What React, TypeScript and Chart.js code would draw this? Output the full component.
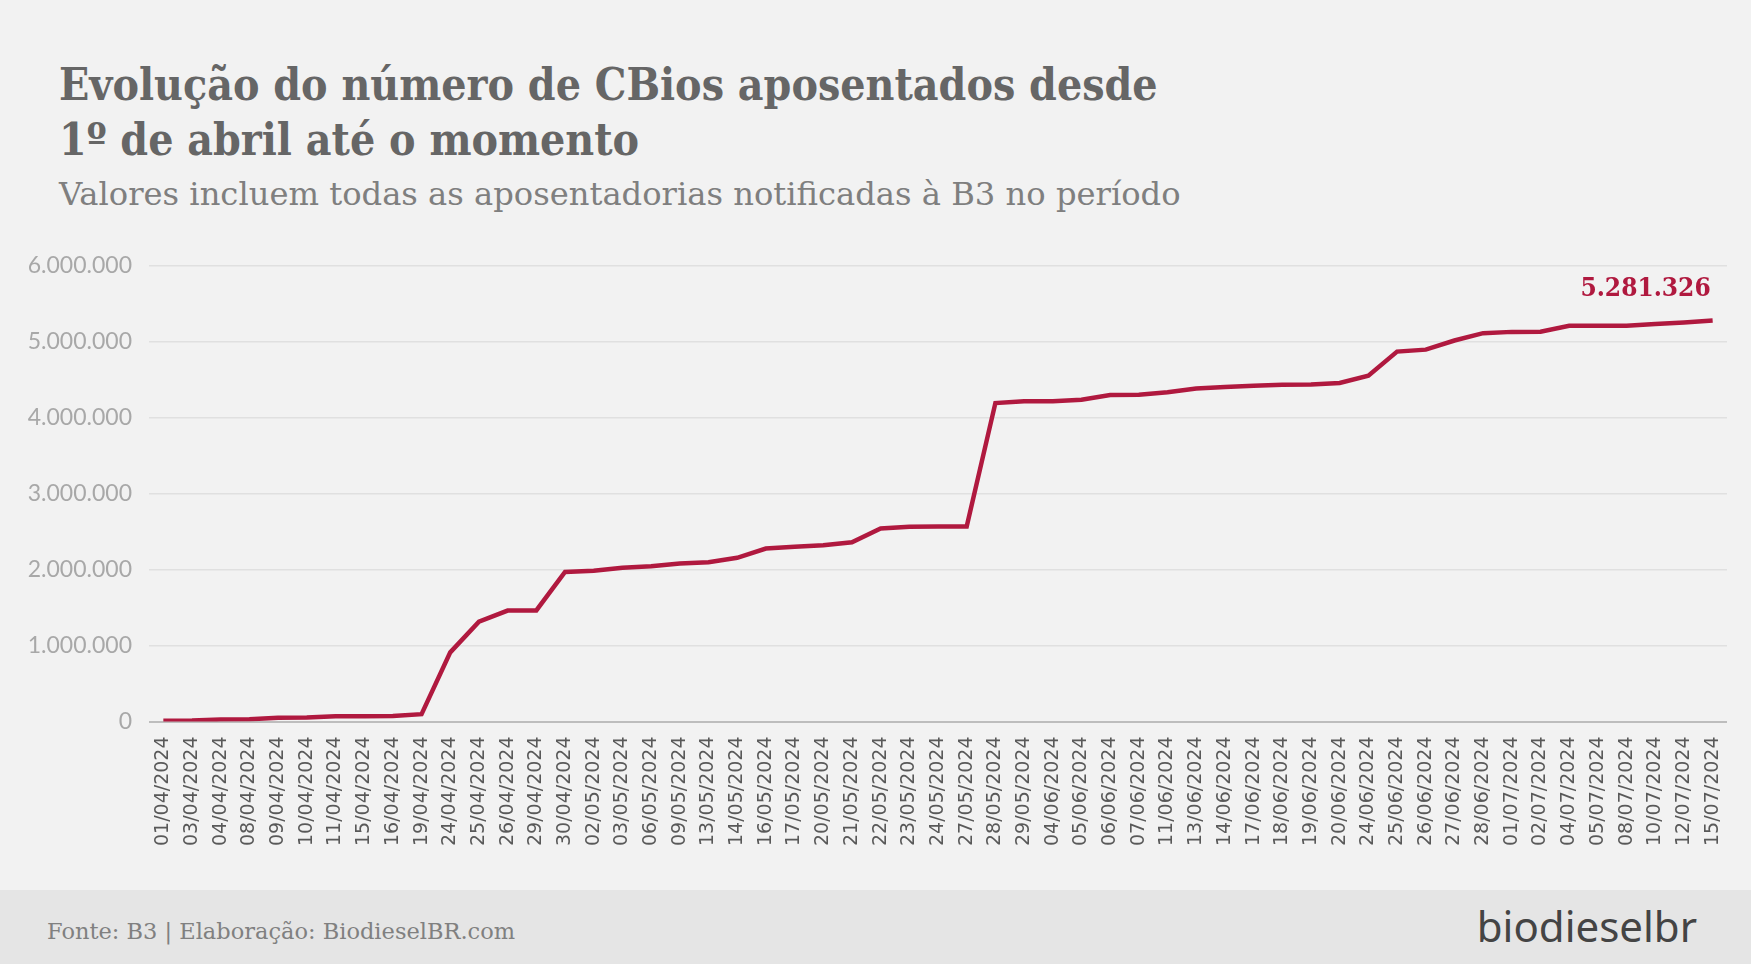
import React, { useEffect, useRef } from "react";
import { Chart, registerables } from "chart.js";

Chart.register(...registerables);

const dates = [
  "01/04/2024", "03/04/2024", "04/04/2024", "08/04/2024", "09/04/2024", "10/04/2024", "11/04/2024",
  "15/04/2024", "16/04/2024", "19/04/2024", "24/04/2024", "25/04/2024", "26/04/2024", "29/04/2024",
  "30/04/2024", "02/05/2024", "03/05/2024", "06/05/2024", "09/05/2024", "13/05/2024", "14/05/2024",
  "16/05/2024", "17/05/2024", "20/05/2024", "21/05/2024", "22/05/2024", "23/05/2024", "24/05/2024",
  "27/05/2024", "28/05/2024", "29/05/2024", "04/06/2024", "05/06/2024", "06/06/2024", "07/06/2024",
  "11/06/2024", "13/06/2024", "14/06/2024", "17/06/2024", "18/06/2024", "19/06/2024", "20/06/2024",
  "24/06/2024", "25/06/2024", "26/06/2024", "27/06/2024", "28/06/2024", "01/07/2024", "02/07/2024",
  "04/07/2024", "05/07/2024", "08/07/2024", "10/07/2024", "12/07/2024", "15/07/2024",
];

const retiredCBios = [
  10000, 12000, 25000, 30000, 50000, 52000, 68000,
  70000, 72000, 97000, 910000, 1315000, 1460000, 1462000,
  1970000, 1985000, 2025000, 2045000, 2080000, 2097000, 2155000,
  2277000, 2300000, 2320000, 2360000, 2540000, 2565000, 2566000,
  2567000, 4193000, 4215000, 4216000, 4237000, 4300000, 4302000,
  4334000, 4385000, 4405000, 4420000, 4435000, 4437000, 4457000,
  4554000, 4870000, 4896000, 5016000, 5113000, 5130000, 5131000,
  5210000, 5211000, 5212000, 5233000, 5255000, 5281326,
];

const yTicks = [0, 1000000, 2000000, 3000000, 4000000, 5000000, 6000000];

const titleLines = ["Evolução do número de CBios aposentados desde", "1º de abril até o momento"];
const subtitle = "Valores incluem todas as aposentadorias notificadas à B3 no período";
const footerText = "Fonte: B3 | Elaboração: BiodieselBR.com";
const logoText = "biodieselbr";

const fmt = (v: number) => String(Math.round(v)).replace(/\B(?=(\d{3})+(?!\d))/g, ".");

const SLAB_COND = "'DejaVu Serif Condensed', 'DejaVu Serif', serif";
const SLAB = "'DejaVu Serif', serif";
const LINE_COLOR = "#b0193f";

export default function App() {
  const canvasRef = useRef<HTMLCanvasElement | null>(null);

  useEffect(() => {
    document.body.style.margin = "0";
    const canvas = canvasRef.current;
    if (!canvas) return;

    const lastLabel = {
      id: "lastLabel",
      afterDatasetsDraw(chart: any) {
        const meta = chart.getDatasetMeta(0);
        const pt = meta.data[meta.data.length - 1];
        if (!pt) return;
        const ctx = chart.ctx;
        ctx.save();
        ctx.font = `bold 26px ${SLAB_COND}`;
        ctx.fillStyle = LINE_COLOR;
        ctx.textAlign = "right";
        ctx.textBaseline = "alphabetic";
        ctx.fillText(fmt(retiredCBios[retiredCBios.length - 1]), pt.x - 2, pt.y - 24);
        ctx.restore();
      },
    };

    const chart = new Chart(canvas, {
      type: "line",
      data: {
        labels: dates,
        datasets: [
          {
            data: retiredCBios,
            borderColor: LINE_COLOR,
            borderWidth: 4.5,
            pointRadius: 0,
            pointHoverRadius: 0,
            tension: 0,
            fill: false,
          },
        ],
      },
      options: {
        responsive: false,
        animation: false,
        devicePixelRatio: 1,
        layout: { padding: { top: 0, right: 24, left: 0, bottom: 0 } },
        plugins: {
          legend: { display: false },
          tooltip: { enabled: false },
          title: { display: false },
        },
        scales: {
          x: {
            type: "category",
            offset: true,
            grid: { display: false, drawTicks: false },
            border: { display: false },
            ticks: {
              autoSkip: false,
              minRotation: 90,
              maxRotation: 90,
              padding: 15,
              color: "#595959",
              font: { family: "'DejaVu Sans', sans-serif", size: 19 },
            },
            afterFit: (s: any) => {
              s.height = 168.5;
            },
          },
          y: {
            min: 0,
            max: 6000000,
            afterBuildTicks: (s: any) => {
              s.ticks = yTicks.map((v) => ({ value: v }));
            },
            grid: {
              drawTicks: false,
              color: (c: any) => (c.tick && c.tick.value === 0 ? "#bdbdbd" : "#e0e0e0"),
              lineWidth: (c: any) => (c.tick && c.tick.value === 0 ? 2 : 1.5),
            },
            border: { display: false },
            ticks: {
              padding: 17,
              color: "#a8a8a8",
              font: { family: "Lato, sans-serif", size: 23 },
              callback: (v: any) => fmt(Number(v)),
            },
            afterFit: (s: any) => {
              s.width = 149;
            },
          },
        },
      },
      plugins: [lastLabel],
    });

    return () => chart.destroy();
  }, []);

  return (
    <div
      style={{
        position: "fixed",
        left: 0,
        top: 0,
        width: 1751,
        height: 964,
        background: "#f2f2f2",
        overflow: "hidden",
      }}
    >
      <div
        style={{
          position: "absolute",
          left: 59,
          top: 57,
          fontFamily: SLAB_COND,
          fontWeight: "bold",
          fontSize: 44.2,
          lineHeight: "55px",
          color: "#666666",
          whiteSpace: "nowrap",
        }}
      >
        {titleLines.map((l, i) => (
          <div key={i}>{l}</div>
        ))}
      </div>
      <div
        style={{
          position: "absolute",
          left: 59,
          top: 178,
          fontFamily: SLAB,
          fontSize: 32.2,
          lineHeight: "32.2px",
          color: "#7f7f7f",
          whiteSpace: "nowrap",
        }}
      >
        {subtitle}
      </div>
      <canvas
        ref={canvasRef}
        width={1751}
        height={655}
        style={{ position: "absolute", left: 0, top: 235, width: 1751, height: 655 }}
      />
      <div
        style={{
          position: "absolute",
          left: 0,
          top: 890,
          width: 1751,
          height: 74,
          background: "#e5e5e5",
        }}
      />
      <div
        style={{
          position: "absolute",
          left: 47,
          top: 920,
          fontFamily: SLAB,
          fontSize: 22.5,
          lineHeight: "22.5px",
          color: "#808080",
          whiteSpace: "nowrap",
        }}
      >
        {footerText}
      </div>
      <div
        style={{
          position: "absolute",
          right: 54,
          top: 905,
          fontFamily: "'Noto Sans', sans-serif",
          fontSize: 42,
          lineHeight: "42px",
          color: "#444444",
          whiteSpace: "nowrap",
        }}
      >
        {logoText}
      </div>
    </div>
  );
}
